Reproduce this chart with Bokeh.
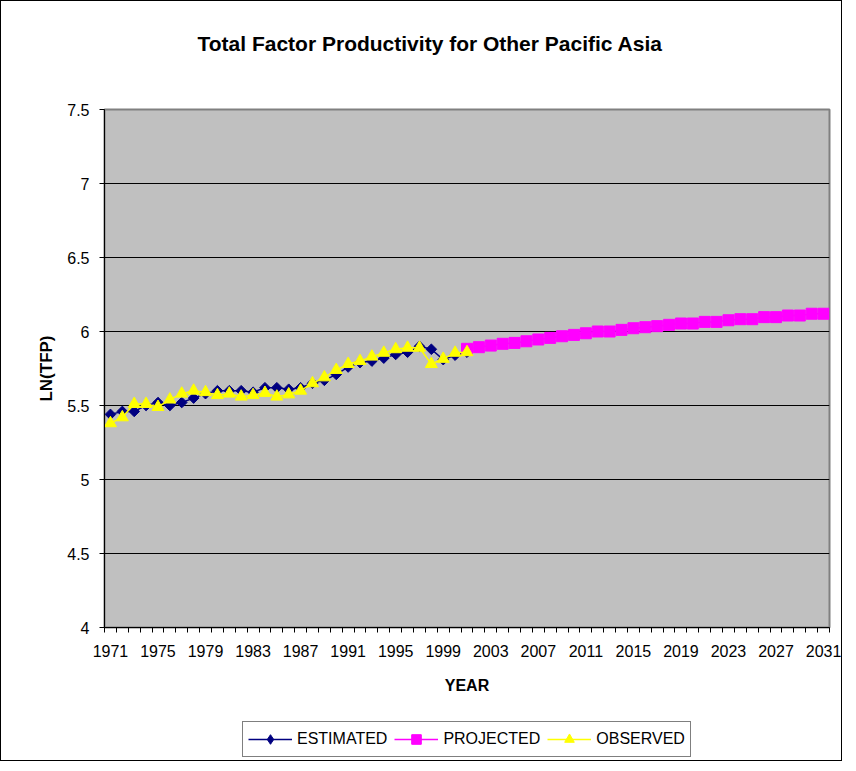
import math
from bokeh.plotting import figure
from bokeh.layouts import column
from bokeh.models import FixedTicker, Legend, LegendItem, Range1d, Title
from bokeh.embed import file_html
from bokeh.resources import INLINE

# ---- data ----
est_years = list(range(1971, 2002))
estimated = [5.44, 5.46, 5.46, 5.50, 5.52, 5.50, 5.52, 5.55, 5.58, 5.60,
             5.60, 5.60, 5.59, 5.62, 5.62, 5.61, 5.62, 5.65, 5.67, 5.71,
             5.76, 5.79, 5.80, 5.82, 5.845, 5.86, 5.90, 5.88, 5.81, 5.84, 5.86]
obs_years = list(range(1971, 2002))
observed = [5.38, 5.42, 5.51, 5.51, 5.49, 5.54, 5.58, 5.60, 5.59, 5.57,
            5.58, 5.56, 5.57, 5.585, 5.56, 5.575, 5.60, 5.65, 5.69, 5.74,
            5.78, 5.80, 5.83, 5.856, 5.88, 5.89, 5.89, 5.78, 5.815, 5.856, 5.86]
proj_years = list(range(2001, 2032))
projected = [5.883, 5.894, 5.905, 5.917, 5.923, 5.934, 5.946, 5.957, 5.968, 5.977,
             5.988, 6.0, 6.0, 6.011, 6.022, 6.029, 6.036, 6.045, 6.054, 6.054,
             6.065, 6.065, 6.076, 6.083, 6.083, 6.097, 6.097, 6.108, 6.108, 6.12, 6.12]
x_tick_years = [1971, 1975, 1979, 1983, 1987, 1991, 1995, 1999, 2003, 2007,
                2011, 2015, 2019, 2023, 2027, 2031]
y_ticks = [4, 4.5, 5, 5.5, 6, 6.5, 7, 7.5]
y_tick_labels = ["4", "4.5", "5", "5.5", "6", "6.5", "7", "7.5"]
series_names = ["ESTIMATED", "PROJECTED", "OBSERVED"]
title_text = "Total Factor Productivity for Other Pacific Asia"

FONT = "Liberation Sans"
NAVY, MAGENTA, YELLOW = "#000080", "#FF00FF", "#FFFF00"

p = figure(width=840, height=704, output_backend="svg", toolbar_location=None,
           x_range=Range1d(1970.5, 2031.5), y_range=Range1d(4, 7.5),
           min_border_left=103, min_border_right=12, min_border_top=108,
           min_border_bottom=78)

p.background_fill_color = "#C0C0C0"
p.border_fill_color = "white"
p.outline_line_color = "#808080"
p.outline_line_width = 2
p.title.text = ""

# spacer between frame and title, then the title itself (outermost)
p.add_layout(Title(text=" ", text_font_size="1px", standoff=52), "above")
p.add_layout(Title(text=title_text, align="left", offset=93, text_font=FONT,
                   text_font_size="21px", text_font_style="bold",
                   text_color="black", standoff=0), "above")

# x axis
xa = p.xaxis[0]
xa.ticker = FixedTicker(ticks=x_tick_years,
                        minor_ticks=[y + 0.5 for y in range(1970, 2032)])
xa.major_label_overrides = {y: str(y) for y in x_tick_years}
xa.major_tick_out = 0
xa.major_tick_in = 0
xa.minor_tick_out = 5
xa.minor_tick_in = 0
xa.minor_tick_line_color = "black"
xa.axis_line_color = "black"
xa.major_label_text_font = FONT
xa.major_label_text_font_size = "16px"
xa.major_label_text_color = "black"
xa.major_label_standoff = 12
xa.axis_label = "YEAR"
xa.axis_label_text_font = FONT
xa.axis_label_text_font_size = "16px"
xa.axis_label_text_font_style = "bold"
xa.axis_label_text_color = "black"
xa.axis_label_standoff = 17

# y axis
ya = p.yaxis[0]
ya.ticker = FixedTicker(ticks=y_ticks, minor_ticks=[])
ya.major_label_overrides = dict(zip(y_ticks, y_tick_labels))
ya.major_tick_out = 5
ya.major_tick_in = 0
ya.major_tick_line_color = "black"
ya.axis_line_color = "black"
ya.major_label_text_font = FONT
ya.major_label_text_font_size = "16px"
ya.major_label_text_color = "black"
ya.major_label_standoff = 10
ya.axis_label = "LN(TFP)"
ya.axis_label_text_font = FONT
ya.axis_label_text_font_size = "17px"
ya.axis_label_text_font_style = "bold"
ya.axis_label_text_color = "black"
ya.axis_label_standoff = 8

p.xgrid.visible = False
p.ygrid.ticker = FixedTicker(ticks=y_ticks)
p.ygrid.grid_line_color = "black"
p.ygrid.grid_line_width = 1

# series
p.line(est_years, estimated, line_color=NAVY, line_width=1.5)
p.scatter(est_years, estimated, marker="square", size=7.5, angle=math.pi / 4,
          fill_color=NAVY, line_color=NAVY)
p.line(proj_years, projected, line_color=MAGENTA, line_width=1.5)
p.scatter(proj_years, projected, marker="square", size=11,
          fill_color=MAGENTA, line_color=MAGENTA)
p.line(obs_years, observed, line_color=YELLOW, line_width=1.5)
p.scatter(obs_years, observed, marker="triangle", size=12,
          fill_color=YELLOW, line_color=YELLOW)

# ---- legend strip (separate figure below the chart) ----
q = figure(width=840, height=55, output_backend="svg", toolbar_location=None,
           x_range=Range1d(0, 1), y_range=Range1d(0, 1),
           min_border_left=0, min_border_right=0, min_border_top=0,
           min_border_bottom=0)
q.axis.visible = False
q.grid.visible = False
q.outline_line_color = None
q.background_fill_color = "white"
q.border_fill_color = "white"

specs = [(NAVY, dict(marker="diamond", size=13)),
         (MAGENTA, dict(marker="square", size=11)),
         (YELLOW, dict(marker="triangle", size=12))]
items = []
for name, (col, mk) in zip(series_names, specs):
    # one off-range point so the legend has a glyph to draw (never visible)
    ln = q.line([-10, -9], [-10, -10], line_color=col, line_width=1.5)
    sc = q.scatter([-10], [-10], fill_color=col, line_color=col, **mk)
    items.append(LegendItem(label=name, renderers=[ln, sc]))

legend = Legend(items=items, orientation="horizontal", location=(138, 3),
                glyph_width=44, glyph_height=24, label_height=24,
                label_standoff=5, spacing=7, padding=5, margin=0,
                label_text_font=FONT, label_text_font_size="16px",
                label_text_color="black",
                border_line_color="black", border_line_width=1,
                background_fill_color="white", background_fill_alpha=1)
q.add_layout(legend, "center")

layout = column(p, q, spacing=0)
layout.styles = {"border": "1px solid black"}

open("out.html", "w").write(file_html(layout, INLINE))
